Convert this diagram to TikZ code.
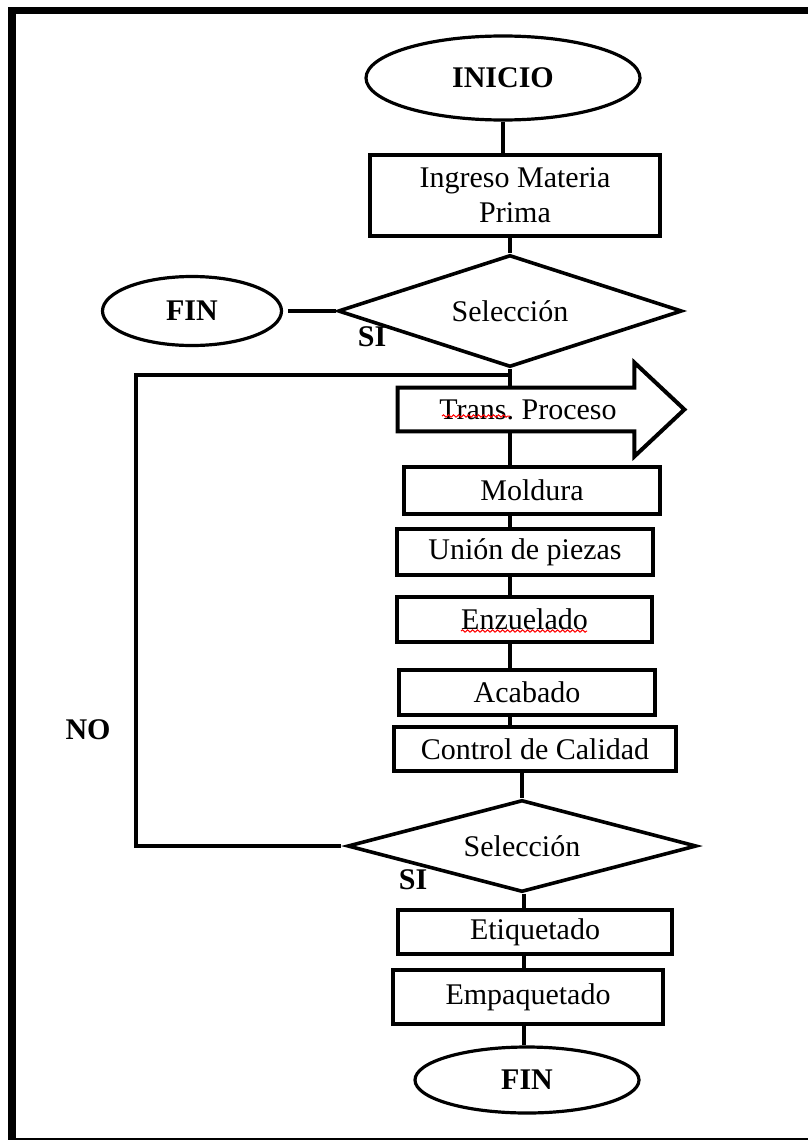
\documentclass[tikz,border=0pt]{standalone}
\usepackage{fontspec}
\setmainfont{Liberation Serif}
\usetikzlibrary{shapes.geometric, decorations.pathmorphing}

\tikzset{
  terminal/.style={draw, ellipse, line width=1.6pt, inner sep=0pt, font=\fontsize{15}{17}\selectfont\bfseries},
  proceso/.style={draw, rectangle, line width=2.2pt, inner sep=0pt, align=center, font=\fontsize{15}{17.5}\selectfont},
  decision/.style={draw, diamond, aspect=3, line width=1.8pt, inner sep=0pt, font=\fontsize{15}{17}\selectfont},
  enlace/.style={line width=1.8pt},
  rotulo/.style={inner sep=0pt, font=\fontsize{15}{17}\selectfont\bfseries},
  revision/.style={red, line width=0.5pt, decorate, decoration={snake, amplitude=0.6pt, segment length=2.5pt}}
}

\begin{document}
\begin{tikzpicture}[x=0.5pt, y=-0.5pt]
    \useasboundingbox (0,0) rectangle (808,1140);
    % marco
    \draw[line width=3.75pt] (808,10.5) -- (12,10.5) -- (12,1140);
    \draw[line width=1pt] (12,1139) -- (808,1139);

    \node[terminal, minimum width=137pt, minimum height=42pt] (inicio) at (503,78) {INICIO};
    \node[proceso, minimum width=145pt, minimum height=40.5pt] (ingreso) at (515,195.5) {Ingreso Materia\\Prima};
    \node[decision, minimum width=172pt, minimum height=56pt] (sel1) at (510,311) {Selección};
    \node[terminal, minimum width=89.5pt, minimum height=34.5pt] (fin1) at (192,311) {FIN};

    % flecha de transporte
    \node[inner sep=0pt, minimum width=118pt, minimum height=21.5pt, font=\fontsize{15}{17}\selectfont] (trans) at (516,409.5) {\hspace*{12pt}Trans.\ Proceso};
    \draw[line width=2pt] (trans.north west) -- (trans.north east) -- ++(0,-25) -- ([xshift=25pt]trans.east)
        -- ([yshift=-12.5pt]trans.south east) -- (trans.south east) -- (trans.south west) -- cycle;
    \draw[revision] (442,416) -- (510,416);

    \node[proceso, minimum width=128pt, minimum height=23.5pt] (moldura) at (532,490.5) {Moldura};
    \node[proceso, minimum width=128pt, minimum height=23pt] (union) at (525,552) {Unión de piezas};
    \node[proceso, minimum width=127.5pt, minimum height=22.5pt] (enzuelado) at (524.5,619.5) {Enzuelado};
    \draw[revision] (461,631) -- (587,631);
    \node[proceso, minimum width=128pt, minimum height=22.5pt] (acabado) at (527,692.5) {Acabado};
    \node[proceso, minimum width=141pt, minimum height=22pt] (control) at (535,749) {Control de Calidad};

    \node[decision, minimum width=174.5pt, minimum height=46pt] (sel2) at (522,846) {Selección};
    \node[proceso, minimum width=137pt, minimum height=22pt] (etiq) at (535,932) {Etiquetado};
    \node[proceso, minimum width=135pt, minimum height=27pt] (empaq) at (528,997) {Empaquetado};
    \node[terminal, minimum width=112pt, minimum height=33pt] (fin2) at (527,1080) {FIN};

    \node[rotulo] (si1) at (372,337) {SI};
    \node[rotulo] (si2) at (413,880) {SI};
    \node[rotulo] (no) at (88,730) {NO};

    % conectores
    \coordinate (eje) at (510,0);
    \coordinate (eje2) at (524,0);
    \draw[enlace] (inicio.south) -- (inicio.south |- ingreso.north);
    \draw[enlace] (ingreso.south -| sel1.north) -- (sel1.north);
    \draw[enlace] ([xshift=2.5pt]fin1.east) -- (sel1.west);
    \draw[enlace] (sel1.south) -- (sel1.south |- trans.north);
    \draw[enlace] (trans.south -| eje) -- (moldura.north -| eje);
    \foreach \a/\b in {moldura/union, union/enzuelado, enzuelado/acabado, acabado/control}
        \draw[enlace] (\a.south -| eje) -- (\b.north -| eje);
    \draw[enlace] (control.south -| sel2.north) -- (sel2.north);
    \foreach \a/\b in {sel2/etiq, etiq/empaq, empaq/fin2}
        \draw[enlace] (\a.south -| eje2) -- (\b.north -| eje2);

    % retorno NO
    \coordinate (retorno) at ([yshift=-3pt]sel1.south);
    \draw[enlace, line width=2pt] ([xshift=-2.5pt]sel2.west) -- ++(-205,0) |- (retorno);
\end{tikzpicture}
\end{document}
